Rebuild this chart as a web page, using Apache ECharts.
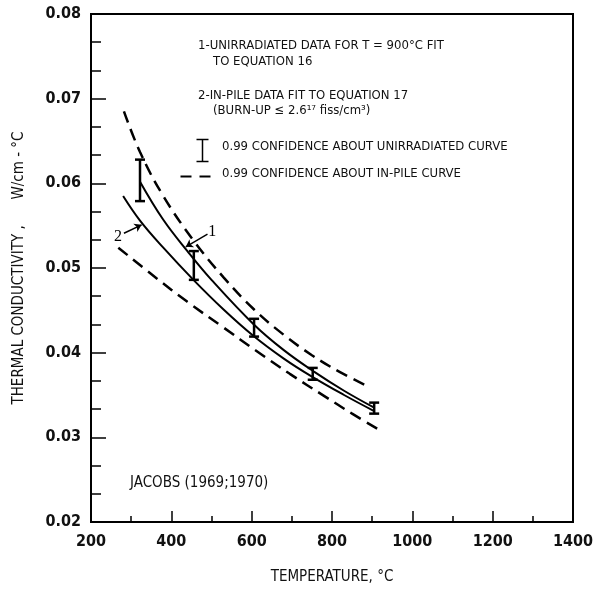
<!DOCTYPE html>
<html>
<head>
<meta charset="utf-8">
<script src="https://cdn.jsdelivr.net/npm/echarts@6/dist/echarts.min.js"></script>
<style>
  html, body { margin: 0; padding: 0; background: #fff; }
  #chart { width: 600px; height: 592px; }
</style>
</head>
<body>
<div id="chart"></div>
<script>
// curve 1: unirradiated fit (eq. 16)
const unirrCurve = [[322, 0.0602], [380, 0.0557], [440, 0.0520], [500, 0.0486], [606, 0.0433], [680, 0.0403], [757, 0.0377], [830, 0.0355], [905, 0.0335]];
// curve 2: in-pile fit (eq. 17)
const inPileCurve = [[280, 0.0585], [322, 0.0556], [380, 0.0524], [455, 0.0486], [530, 0.0451], [604, 0.0420], [680, 0.0393], [749, 0.0372], [830, 0.0350], [905, 0.0331]];
// 0.99 confidence band about in-pile curve
const inPileUpper = [[282, 0.0685], [322, 0.0637], [380, 0.0585], [456, 0.0532], [530, 0.0489], [606, 0.0451], [680, 0.0421], [750, 0.0397], [820, 0.0377], [895, 0.0359]];
const inPileLower = [[268, 0.0524], [363, 0.0488], [440, 0.0460], [529, 0.0430], [612, 0.0402], [695, 0.0375], [780, 0.0349], [850, 0.0328], [924, 0.0307]];
// 0.99 confidence bars about unirradiated curve: [T, low, high]
const unirrBars = [[322, 0.0579, 0.0628], [456, 0.0486, 0.0520], [606, 0.0419, 0.0440], [752, 0.0368, 0.0382], [905, 0.0328, 0.0341]];

const xTicks = [200, 1400, 200];
const yTicks = [0.02, 0.08, 0.01];

const FONT = "DejaVu Sans Condensed";
const chart = echarts.init(document.getElementById("chart"));

const solid = { color: "#000", width: 2 };
const dashed = { color: "#000", width: 2.5, type: [12, 7] };
const txt = (s, x, y, size) => ({ type: "text", left: x, top: y, style: { text: s, font: (size || 13) + "px '" + FONT + "'", fill: "#111" } });

const option = {
  backgroundColor: "#fff",
  animation: false,
  grid: { left: 91, right: 27, top: 14, bottom: 70, show: true, borderColor: "#000", borderWidth: 2 },
  xAxis: {
    type: "value",
    min: xTicks[0], max: xTicks[1], interval: xTicks[2],
    name: "TEMPERATURE, °C",
    nameLocation: "middle",
    nameGap: 48,
    nameTextStyle: { fontFamily: FONT, fontSize: 15, color: "#111" },
    axisLine: { lineStyle: { color: "#000", width: 2 } },
    axisTick: { inside: true, length: 11, lineStyle: { color: "#000", width: 1.5 } },
    minorTick: { show: true, splitNumber: 2, length: 6, lineStyle: { color: "#000", width: 1.5 } },
    splitLine: { show: false },
    axisLabel: { fontFamily: FONT, fontSize: 16, fontWeight: "bold", color: "#111", margin: 12,
      formatter: v => String(v) }
  },
  yAxis: {
    type: "value",
    min: yTicks[0], max: yTicks[1], interval: yTicks[2],
    name: "THERMAL CONDUCTIVITY ,      W/cm - °C",
    nameLocation: "middle",
    nameGap: 64,
    nameTextStyle: { fontFamily: FONT, fontSize: 15, color: "#111" },
    axisLine: { lineStyle: { color: "#000", width: 2 } },
    axisTick: { inside: true, length: 15, lineStyle: { color: "#000", width: 1.5 } },
    minorTick: { show: true, splitNumber: 3, length: 10, lineStyle: { color: "#000", width: 1.5 } },
    splitLine: { show: false },
    axisLabel: { fontFamily: FONT, fontSize: 16, fontWeight: "bold", color: "#111", margin: 10,
      formatter: v => v.toFixed(2) }
  },
  series: [
    { type: "line", data: unirrCurve, smooth: 0.4, symbol: "none", lineStyle: solid,
      markLine: {
        silent: true, symbol: ["none", "arrow"], symbolSize: 7,
        lineStyle: { color: "#000", width: 1.5, type: "solid" }, label: { show: false },
        data: [
          [{ coord: [490, 0.0540] }, { coord: [436, 0.0525] }],
          [{ coord: [282, 0.0541] }, { coord: [326, 0.0551] }]
        ]
      },
      markPoint: {
        silent: true, symbol: "circle", symbolSize: 1, itemStyle: { color: "transparent" },
        label: { show: true, fontFamily: "Liberation Serif", fontSize: 16, color: "#000", formatter: p => p.name },
        data: [
          { name: "1", coord: [502, 0.0543] },
          { name: "2", coord: [267, 0.0537] }
        ]
      }
    },
    { type: "line", data: inPileCurve, smooth: 0.4, symbol: "none", lineStyle: solid },
    { type: "line", data: inPileUpper, smooth: 0.4, symbol: "none", lineStyle: dashed },
    { type: "line", data: inPileLower, smooth: 0.4, symbol: "none", lineStyle: dashed },
    {
      type: "custom",
      data: unirrBars,
      renderItem: (params, api) => {
        const x = api.value(0);
        const lo = api.coord([x, api.value(1)]);
        const hi = api.coord([x, api.value(2)]);
        const w = 5;
        const st = { stroke: "#000", lineWidth: 2.5 };
        return {
          type: "group",
          children: [
            { type: "line", shape: { x1: lo[0], y1: lo[1], x2: hi[0], y2: hi[1] }, style: st },
            { type: "line", shape: { x1: hi[0] - w, y1: hi[1], x2: hi[0] + w, y2: hi[1] }, style: st },
            { type: "line", shape: { x1: lo[0] - w, y1: lo[1], x2: lo[0] + w, y2: lo[1] }, style: st }
          ]
        };
      }
    }
  ],
  graphic: [
    txt("1-UNIRRADIATED DATA FOR T = 900°C FIT", 198, 39),
    txt("TO EQUATION 16", 213, 55),
    txt("2-IN-PILE DATA FIT TO EQUATION 17", 198, 89),
    txt("(BURN-UP ≤ 2.6¹⁷ fiss/cm³)", 213, 104),
    { type: "group", left: 194, top: 137, children: [
      { type: "line", shape: { x1: 6, y1: 0, x2: 6, y2: 22 }, style: { stroke: "#000", lineWidth: 1.5 } },
      { type: "line", shape: { x1: 0, y1: 0, x2: 12, y2: 0 }, style: { stroke: "#000", lineWidth: 1.5 } },
      { type: "line", shape: { x1: 0, y1: 22, x2: 12, y2: 22 }, style: { stroke: "#000", lineWidth: 1.5 } }
    ] },
    txt("0.99 CONFIDENCE ABOUT UNIRRADIATED CURVE", 222, 140),
    { type: "group", left: 178, top: 174, children: [
      { type: "line", shape: { x1: 0, y1: 0, x2: 11, y2: 0 }, style: { stroke: "#000", lineWidth: 2 } },
      { type: "line", shape: { x1: 19, y1: 0, x2: 30, y2: 0 }, style: { stroke: "#000", lineWidth: 2 } }
    ] },
    txt("0.99 CONFIDENCE ABOUT IN-PILE CURVE", 222, 167),
    txt("JACOBS (1969;1970)", 130, 476, 15)
  ]
};

chart.setOption(option);
</script>
</body>
</html>
